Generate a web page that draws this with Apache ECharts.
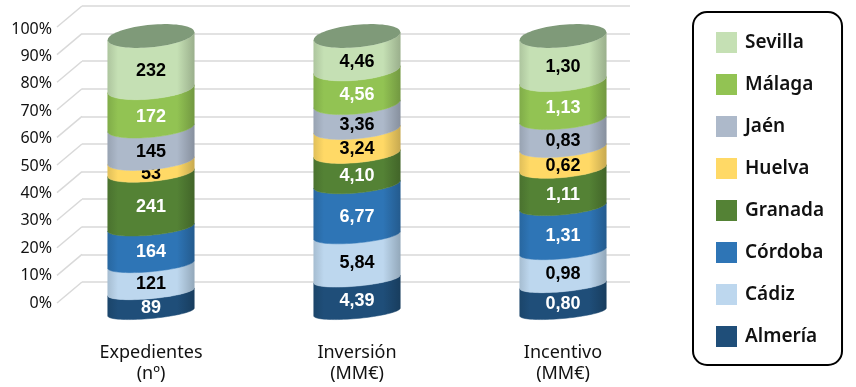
<!DOCTYPE html>
<html>
<head>
<meta charset="utf-8">
<script src="https://cdn.jsdelivr.net/npm/echarts@6/dist/echarts.min.js"></script>
<style>html,body{margin:0;padding:0;background:#fff;}#chart{width:856px;height:387px;}</style>
</head>
<body>
<div id="chart"></div>
<script>
const categories = ['Expedientes\n(nº)', 'Inversión\n(MM€)', 'Incentivo\n(MM€)'];
const provinces = ['Almería', 'Cádiz', 'Córdoba', 'Granada', 'Huelva', 'Jaén', 'Málaga', 'Sevilla'];
const expedientes = [89, 121, 164, 241, 53, 145, 172, 232];
const inversion = [4.39, 5.84, 6.77, 4.10, 3.24, 3.36, 4.56, 4.46];
const incentivo = [0.80, 0.98, 1.31, 1.11, 0.62, 0.83, 1.13, 1.30];
const yTickValues = [0, 10, 20, 30, 40, 50, 60, 70, 80, 90, 100];

const colors = ['#1f4e79', '#bdd7ee', '#2e75b6', '#548235', '#ffd966', '#adb9ca', '#92c353', '#c5e0b4'];
const textColors = ['#fff', '#000', '#fff', '#fff', '#000', '#000', '#fff', '#000'];
const topColor = '#7f9a79';

const columns = [expedientes, inversion, incentivo];
const decimals = [0, 2, 2];
function fmt(v, d) { return d === 0 ? String(v) : v.toFixed(d).replace('.', ','); }

function darken(hex, f) {
  const n = parseInt(hex.slice(1), 16);
  const r = Math.round(((n >> 16) & 255) * (1 - f));
  const g = Math.round(((n >> 8) & 255) * (1 - f));
  const b = Math.round((n & 255) * (1 - f));
  return 'rgb(' + r + ',' + g + ',' + b + ')';
}

// cumulative percentages
const segData = provinces.map(() => []);
columns.forEach((col, c) => {
  const total = col.reduce((a, b) => a + b, 0);
  let acc = 0;
  col.forEach((v, i) => {
    const s = acc / total * 100;
    acc += v;
    const e = acc / total * 100;
    segData[i].push([c, s, e, fmt(v, decimals[c])]);
  });
});

function arc(cx, cy, rx, ry, k, t0, t1, n) {
  const pts = [];
  for (let i = 0; i <= n; i++) {
    const t = t0 + (t1 - t0) * i / n;
    pts.push([cx + rx * Math.cos(t), cy + ry * Math.sin(t) - k * Math.cos(t)]);
  }
  return pts;
}

function makeRender(idx) {
  return function (params, api) {
    const c = api.value(0), s = api.value(1), e = api.value(2);
    const label = segData[idx][params.dataIndex][3];
    const pb = api.coord([c, s]);
    const pt = api.coord([c, e]);
    const rx = api.size([1, 0])[0] * 0.42 / 2;
    const k = rx * 0.09;
    const ryf = v => rx * (0.15 + 0.11 * v / 100);
    const cx = pb[0];
    const bottom = arc(cx, pb[1], rx, ryf(s), k, Math.PI, 0, 40);
    const top = arc(cx, pt[1], rx, ryf(e), k, 0, Math.PI, 40);
    const col = colors[idx];
    const grad = new echarts.graphic.LinearGradient(0, 0, 1, 0, [
      { offset: 0, color: darken(col, 0.12) },
      { offset: 0.12, color: col },
      { offset: 0.8, color: col },
      { offset: 1, color: darken(col, 0.22) }
    ]);
    const children = [{
      type: 'polygon',
      shape: { points: bottom.concat(top) },
      style: { fill: grad, stroke: grad, lineWidth: 0.5 }
    }];
    if (idx === provinces.length - 1) {
      children.push({
        type: 'polygon',
        shape: { points: arc(cx, pt[1], rx, ryf(e), k, 0, Math.PI * 2, 80) },
        style: { fill: topColor }
      });
    }
    const ym = (pb[1] + pt[1]) / 2 + ryf((s + e) / 2) * 0.85;
    children.push({
      type: 'text',
      style: {
        text: label, x: cx, y: ym, align: 'center', verticalAlign: 'middle',
        fontFamily: '"Liberation Sans", Arial, sans-serif', fontWeight: 'bold', fontSize: 18,
        fill: textColors[idx]
      }
    });
    return { type: 'group', children };
  };
}

const series = [];
// back wall gridline diagonals
series.push({
  type: 'custom', name: '_diag', xAxisIndex: 1, yAxisIndex: 1, silent: true, z: 1,
  data: yTickValues.map(v => [0, v]),
  renderItem: function (params, api) {
    const p = api.coord([0, api.value(1)]);
    return {
      type: 'line',
      shape: { x1: p[0] - 25, y1: p[1] + 21, x2: p[0], y2: p[1] },
      style: { stroke: '#d9d9d9', lineWidth: 1.5 }
    };
  }
});
provinces.forEach((name, i) => {
  series.push({
    type: 'custom', name, xAxisIndex: 0, yAxisIndex: 0, z: 5,
    itemStyle: { color: colors[i] },
    encode: { x: 0, y: [1, 2] },
    data: segData[i].map(d => [d[0], d[1], d[2]]),
    renderItem: makeRender(i)
  });
});

const chart = echarts.init(document.getElementById('chart'));
chart.setOption({
  animation: false,
  backgroundColor: '#fff',
  grid: [
    { left: 48, width: 618, top: 36, height: 276 },
    { left: 82, right: 226, top: 6, height: 276 },
    { left: 52, width: 10, top: 29, height: 274 }
  ],
  xAxis: [
    {
      type: 'category', gridIndex: 0, data: categories,
      axisLine: { show: false }, axisTick: { show: false },
      axisLabel: { margin: 30, fontFamily: '"Noto Sans", sans-serif', fontSize: 18, color: '#111', lineHeight: 21 }
    },
    { type: 'value', gridIndex: 1, min: 0, max: 1, show: false },
    { type: 'value', gridIndex: 2, min: 0, max: 1, show: false }
  ],
  yAxis: [
    { type: 'value', gridIndex: 0, min: 0, max: 100, show: false },
    {
      type: 'value', gridIndex: 1, min: 0, max: 100, interval: 10,
      axisLine: { show: false }, axisTick: { show: false }, axisLabel: { show: false },
      splitLine: { show: true, lineStyle: { color: '#d9d9d9', width: 1.5 } }
    },
    {
      type: 'value', gridIndex: 2, min: 0, max: 100, interval: 10,
      axisLine: { show: false }, axisTick: { show: false }, splitLine: { show: false },
      axisLabel: { margin: 0, formatter: '{value}%', fontFamily: '"Noto Sans", sans-serif', fontSize: 16, color: '#111' }
    }
  ],
  legend: {
    orient: 'vertical', left: 693, top: 12,
    data: provinces.slice().reverse(),
    icon: 'rect', itemWidth: 21, itemHeight: 21, itemGap: 21,
    padding: [20, 18, 18, 23],
    borderColor: '#000', borderWidth: 2, borderRadius: 14, backgroundColor: '#fff',
    selectedMode: false,
    textStyle: { fontFamily: '"Noto Sans", sans-serif', fontWeight: 600, fontSize: 19, color: '#111', padding: [0, 0, 0, 3] }
  },
  series
});
</script>
</body>
</html>
